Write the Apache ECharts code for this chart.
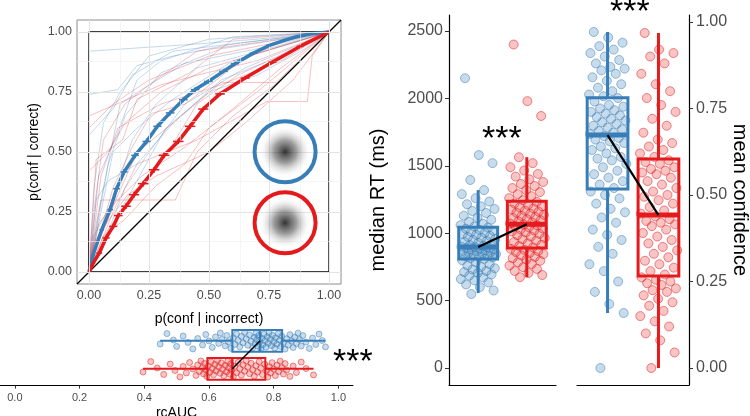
<!DOCTYPE html>
<html lang="en">
<head>
<meta charset="utf-8">
<title>ROC / rcAUC / RT / confidence</title>
<script src="https://cdn.jsdelivr.net/npm/echarts@6.0.0/dist/echarts.min.js"></script>
<style>
  html, body { margin: 0; padding: 0; background: #fff; }
  #chart { width: 750px; height: 416px; }
</style>
</head>
<body>
<div id="chart"></div>
<script>
// ---- data ----
var rocTicks = [0, 0.25, 0.5, 0.75, 1];
var rocMinor = [0.125, 0.375, 0.625, 0.875];
var aucTicks = [0, 0.2, 0.4, 0.6, 0.8, 1];
var rtTicks = [0, 500, 1000, 1500, 2000, 2500];
var confTicks = [0, 0.25, 0.5, 0.75, 1];

// mean type-2 ROC curves, [p(conf|incorrect), p(conf|correct)]
var rocBlueMean = [[0,0],[0.022,0.086],[0.053,0.176],[0.088,0.26],[0.115,0.347],[0.146,0.417],[0.192,0.486],
  [0.24,0.544],[0.285,0.607],[0.338,0.663],[0.393,0.718],[0.442,0.76],[0.497,0.794],[0.56,0.836],[0.608,0.868],
  [0.685,0.912],[0.754,0.945],[0.817,0.966],[0.865,0.98],[0.928,0.993],[1,1]];
var rocBlueErr = [[0,0],[0.006,0.008],[0.01,0.01],[0.012,0.012],[0.014,0.012],[0.015,0.012],[0.016,0.012],
  [0.017,0.012],[0.017,0.011],[0.018,0.011],[0.018,0.01],[0.018,0.01],[0.018,0.009],[0.018,0.008],[0.017,0.008],
  [0.016,0.007],[0.015,0.006],[0.013,0.005],[0.012,0.004],[0.01,0.003],[0,0]];
var rocRedMean = [[0,0],[0.018,0.038],[0.043,0.079],[0.071,0.142],[0.101,0.19],[0.122,0.235],[0.154,0.274],
  [0.188,0.322],[0.226,0.368],[0.271,0.426],[0.313,0.486],[0.372,0.544],[0.421,0.607],[0.476,0.679],[0.546,0.742],
  [0.65,0.808],[0.765,0.875],[0.879,0.94],[1,1]];
var rocRedErr = [[0,0],[0.008,0.006],[0.012,0.008],[0.015,0.01],[0.017,0.011],[0.018,0.012],[0.02,0.012],
  [0.021,0.012],[0.022,0.012],[0.022,0.012],[0.022,0.012],[0.022,0.011],[0.022,0.011],[0.021,0.01],[0.02,0.009],
  [0.019,0.008],[0.017,0.007],[0.014,0.005],[0,0]];

// single-participant curves
var rocBlueSubj = [
  [[0,0],[0,0.92],[0.45,0.95],[0.7,0.97],[1,1]],
  [[0,0],[0,0.74],[0.12,0.76],[0.2,0.86],[0.35,0.9],[0.6,0.95],[1,1]],
  [[0,0],[0.02,0.35],[0.06,0.62],[0.13,0.75],[0.25,0.9],[0.5,0.97],[1,1]],
  [[0,0],[0.03,0.2],[0.08,0.45],[0.15,0.65],[0.3,0.83],[0.55,0.93],[1,1]],
  [[0,0],[0.05,0.25],[0.1,0.5],[0.2,0.6],[0.35,0.72],[0.6,0.88],[1,1]],
  [[0,0],[0.02,0.15],[0.1,0.3],[0.18,0.55],[0.28,0.7],[0.45,0.85],[1,1]],
  [[0,0],[0.04,0.4],[0.12,0.58],[0.2,0.8],[0.3,0.88],[0.6,0.98],[1,1]],
  [[0,0],[0.06,0.12],[0.15,0.35],[0.25,0.5],[0.4,0.7],[0.65,0.85],[1,1]],
  [[0,0],[0,0.57],[0.1,0.68],[0.18,0.82],[0.35,0.92],[1,1]],
  [[0,0],[0.03,0.3],[0.08,0.38],[0.2,0.45],[0.35,0.62],[0.55,0.8],[0.8,0.9],[1,1]],
  [[0,0],[0.08,0.45],[0.13,0.7],[0.22,0.76],[0.4,0.87],[0.7,0.93],[1,1]],
  [[0,0],[0.1,0.2],[0.2,0.38],[0.32,0.6],[0.5,0.75],[0.7,0.82],[0.9,0.93],[1,1]]
];
var rocRedSubj = [
  [[0,0],[0,0.65],[0.3,0.78],[0.45,0.82],[0.7,0.88],[1,1]],
  [[0,0],[0,0.6],[0.1,0.7],[0.25,0.8],[0.5,0.9],[1,1]],
  [[0,0],[0.05,0.3],[0.36,0.3],[0.45,0.5],[0.6,0.65],[0.8,0.8],[1,1]],
  [[0,0],[0.1,0.25],[0.2,0.45],[0.45,0.55],[0.74,0.71],[0.91,0.71],[0.93,0.9],[1,1]],
  [[0,0],[0.03,0.1],[0.12,0.32],[0.2,0.5],[0.35,0.62],[0.55,0.79],[0.78,0.79],[1,1]],
  [[0,0],[0,0.42],[0.08,0.5],[0.15,0.62],[0.3,0.75],[0.5,0.85],[1,1]],
  [[0,0],[0.04,0.2],[0.1,0.28],[0.22,0.4],[0.4,0.52],[0.6,0.68],[0.8,0.85],[1,1]],
  [[0,0],[0.02,0.25],[0.06,0.55],[0.15,0.7],[0.25,0.78],[0.45,0.92],[1,1]],
  [[0,0],[0.06,0.15],[0.15,0.22],[0.28,0.36],[0.4,0.45],[0.5,0.6],[0.7,0.75],[1,1]],
  [[0,0],[0.05,0.4],[0.12,0.6],[0.3,0.7],[0.55,0.78],[0.8,0.88],[1,1]],
  [[0,0],[0.08,0.18],[0.2,0.33],[0.33,0.5],[0.45,0.7],[0.62,0.82],[1,1]],
  [[0,0],[0.1,0.35],[0.18,0.52],[0.26,0.66],[0.4,0.7],[0.66,0.9],[1,1]],
  [[0,0],[0.02,0.12],[0.07,0.2],[0.16,0.32],[0.28,0.4],[0.5,0.5],[0.65,0.62],[0.85,0.8],[1,1]],
  [[0,0],[0.03,0.47],[0.14,0.55],[0.2,0.72],[0.42,0.83],[0.6,0.97],[1,1]]
];

// box stats: [lower whisker, Q1, median, Q3, upper whisker]
var aucBlueBox = [0.449, 0.672, 0.758, 0.826, 0.96];
var aucRedBox = [0.396, 0.595, 0.672, 0.774, 0.923];
var rtBlueBox = [556, 808, 897, 1045, 1320];
var rtRedBox = [674, 890, 1067, 1238, 1564];
var confBlueBox = [0.159, 0.517, 0.673, 0.781, 0.971];
var confRedBox = [0, 0.266, 0.442, 0.604, 0.968];

// participant values
var aucBlue = [0.449,0.47,0.49,0.5,0.52,0.535,0.55,0.565,0.58,0.59,0.6,0.61,0.62,0.63,0.635,0.64,0.65,0.655,0.66,0.668,
  0.675,0.68,0.685,0.69,0.695,0.7,0.705,0.71,0.715,0.72,0.725,0.73,0.735,0.74,0.742,0.745,0.748,0.75,0.753,0.756,
  0.76,0.763,0.766,0.77,0.773,0.776,0.78,0.783,0.786,0.79,0.793,0.796,0.8,0.803,0.806,0.81,0.814,0.818,0.822,0.825,
  0.83,0.835,0.84,0.845,0.85,0.855,0.86,0.865,0.87,0.875,0.88,0.885,0.89,0.9,0.91,0.92,0.93,0.94,0.95,0.96];
var aucRed = [0.396,0.42,0.44,0.46,0.48,0.495,0.51,0.52,0.53,0.54,0.55,0.56,0.565,0.57,0.575,0.58,0.583,0.586,0.59,0.593,
  0.598,0.602,0.606,0.61,0.614,0.618,0.622,0.626,0.63,0.634,0.638,0.642,0.646,0.65,0.654,0.658,0.661,0.664,0.667,0.67,
  0.675,0.68,0.685,0.69,0.695,0.7,0.705,0.71,0.715,0.72,0.725,0.73,0.735,0.74,0.745,0.75,0.755,0.76,0.765,0.772,
  0.778,0.782,0.786,0.79,0.795,0.8,0.805,0.81,0.815,0.82,0.825,0.83,0.835,0.84,0.85,0.86,0.87,0.885,0.9,0.923];
var rtBlue = [549,575,600,620,635,650,660,672,685,695,705,712,720,730,740,750,760,770,785,800,
  810,815,820,825,830,835,840,845,850,855,860,865,870,875,880,883,886,890,893,896,
  900,905,912,920,928,935,942,950,958,965,972,980,988,995,1003,1010,1018,1025,1033,1042,
  1050,1060,1070,1085,1100,1115,1130,1150,1165,1180,1200,1215,1235,1260,1290,1320,1395,1520,1580,2150];
var rtRed = [674,690,705,720,735,748,760,772,785,795,805,815,825,835,845,853,860,868,876,884,
  895,905,915,925,935,945,955,965,975,985,995,1005,1013,1020,1028,1036,1044,1052,1058,1064,
  1072,1080,1088,1096,1104,1112,1120,1128,1136,1144,1152,1160,1168,1176,1184,1192,1200,1210,1220,1232,
  1245,1260,1275,1290,1305,1320,1335,1350,1365,1380,1400,1420,1440,1465,1490,1520,1564,1870,1980,2400];
var confBlue = [0,0.159,0.185,0.22,0.25,0.28,0.3,0.33,0.35,0.37,0.385,0.4,0.42,0.435,0.45,0.46,0.475,0.49,0.5,0.51,
  0.52,0.53,0.54,0.55,0.56,0.57,0.58,0.59,0.6,0.605,0.61,0.62,0.63,0.635,0.64,0.65,0.655,0.66,0.665,0.67,
  0.676,0.68,0.685,0.69,0.695,0.7,0.705,0.71,0.715,0.72,0.725,0.73,0.735,0.74,0.745,0.75,0.755,0.76,0.77,0.78,
  0.785,0.79,0.8,0.81,0.82,0.83,0.84,0.85,0.86,0.865,0.87,0.88,0.89,0.9,0.91,0.92,0.93,0.94,0.955,0.971];
var confRed = [0,0.045,0.08,0.1,0.12,0.135,0.15,0.165,0.18,0.19,0.2,0.21,0.22,0.225,0.23,0.24,0.245,0.25,0.255,0.262,
  0.27,0.28,0.29,0.3,0.31,0.32,0.33,0.34,0.35,0.36,0.37,0.38,0.39,0.4,0.41,0.415,0.42,0.425,0.43,0.438,
  0.446,0.455,0.465,0.475,0.485,0.495,0.5,0.51,0.52,0.53,0.54,0.55,0.56,0.565,0.57,0.575,0.58,0.59,0.595,0.6,
  0.61,0.62,0.63,0.64,0.65,0.66,0.68,0.7,0.72,0.74,0.76,0.78,0.8,0.82,0.85,0.88,0.9,0.91,0.92,0.968];

// ---- styling ----
var BLUE = '#377EB8', RED = '#E41A1C';
var BLUE_PT = 'rgba(55,126,184,0.28)', RED_PT = 'rgba(228,26,28,0.26)';
var FONT = 'Liberation Sans, Arial, sans-serif';

// deterministic spread for the jittered dots
function spread(i) { return ((i * 0.6180339887 + 0.31) % 1) * 2 - 1; }

function jitterV(vals, pos, w) { return vals.map(function (v, i) { return [pos + spread(i) * w, v]; }); }
function jitterH(vals, pos, w) { return vals.map(function (v, i) { return [v, pos + spread(i) * w]; }); }

function boxRenderer(horizontal, lw, medLw, hw, colors) {
  return function (params, api) {
    var pos = api.value(0);
    var s = [api.value(1), api.value(2), api.value(3), api.value(4), api.value(5)];
    var col = colors[params.dataIndex];
    function pt(v, off) { return horizontal ? api.coord([v, pos + off]) : api.coord([pos + off, v]); }
    function seg(a, b, w) {
      return { type: 'line', shape: { x1: a[0], y1: a[1], x2: b[0], y2: b[1] }, style: { stroke: col, lineWidth: w } };
    }
    var c1 = pt(s[1], -hw), c2 = pt(s[3], hw);
    return {
      type: 'group',
      children: [
        seg(pt(s[0], 0), pt(s[1], 0), lw),
        seg(pt(s[3], 0), pt(s[4], 0), lw),
        { type: 'rect',
          shape: { x: Math.min(c1[0], c2[0]), y: Math.min(c1[1], c2[1]),
                   width: Math.abs(c2[0] - c1[0]), height: Math.abs(c2[1] - c1[1]) },
          style: { fill: 'none', stroke: col, lineWidth: lw } },
        seg(pt(s[2], -hw), pt(s[2], hw), medLw)
      ]
    };
  };
}

function renderErr(params, api) {
  var x = api.value(0), y = api.value(1), ex = api.value(2), ey = api.value(3);
  var a = api.coord([x - ex, y]), b = api.coord([x + ex, y]);
  var c = api.coord([x, y - ey]), d = api.coord([x, y + ey]);
  var st = { stroke: api.visual('color'), lineWidth: 1.5 };
  return { type: 'group', children: [
    { type: 'line', shape: { x1: a[0], y1: a[1], x2: b[0], y2: b[1] }, style: st },
    { type: 'line', shape: { x1: c[0], y1: c[1], x2: d[0], y2: d[1] }, style: st }
  ] };
}

function withErr(mean, err) { return mean.map(function (p, i) { return [p[0], p[1], err[i][0], err[i][1]]; }); }

// grid lines of the ROC panel (theme_bw look)
var gridLines = [];
rocTicks.forEach(function (v) {
  gridLines.push({ xAxis: v, lineStyle: { width: 1, color: '#e3e3e3' } });
  gridLines.push({ yAxis: v, lineStyle: { width: 1, color: '#e3e3e3' } });
});
rocMinor.forEach(function (v) {
  gridLines.push({ xAxis: v, lineStyle: { width: 0.6, color: '#eeeeee' } });
  gridLines.push({ yAxis: v, lineStyle: { width: 0.6, color: '#eeeeee' } });
});

var series = [];
series.push({
  type: 'line', xAxisIndex: 0, yAxisIndex: 0, data: [], z: 0, silent: true,
  markLine: { silent: true, symbol: 'none', label: { show: false }, lineStyle: { type: 'solid' }, data: gridLines }
});
rocBlueSubj.forEach(function (c) {
  series.push({ type: 'line', xAxisIndex: 0, yAxisIndex: 0, data: c, symbol: 'none', silent: true, z: 1,
    lineStyle: { color: 'rgba(55,126,184,0.3)', width: 1 } });
});
rocRedSubj.forEach(function (c) {
  series.push({ type: 'line', xAxisIndex: 0, yAxisIndex: 0, data: c, symbol: 'none', silent: true, z: 1,
    lineStyle: { color: 'rgba(228,26,28,0.28)', width: 1 } });
});
// reference square and diagonal
series.push({ type: 'line', xAxisIndex: 0, yAxisIndex: 0, symbol: 'none', silent: true, z: 3,
  data: [[0, 0], [1, 0], [1, 1], [0, 1], [0, 0]], lineStyle: { color: '#000', width: 1.3 } });
series.push({ type: 'line', xAxisIndex: 0, yAxisIndex: 0, symbol: 'none', silent: true, z: 3,
  data: [[-0.05, -0.05], [1.05, 1.05]], lineStyle: { color: '#000', width: 1.3 } });
// mean curves with error crosses
[[rocBlueMean, rocBlueErr, BLUE], [rocRedMean, rocRedErr, RED]].forEach(function (g) {
  series.push({ type: 'line', xAxisIndex: 0, yAxisIndex: 0, data: g[0], symbol: 'none', silent: true, z: 4,
    lineStyle: { color: g[2], width: 3.5 } });
  series.push({ type: 'custom', xAxisIndex: 0, yAxisIndex: 0, data: withErr(g[0], g[1]), z: 5, silent: true,
    itemStyle: { color: g[2] }, renderItem: renderErr });
});
// stimulus icons
function icon(col) {
  return {
    opacity: 1,
    color: { type: 'radial', x: 0.5, y: 0.5, r: 0.5, colorStops: [
      { offset: 0, color: 'rgba(0,0,0,0.8)' }, { offset: 0.35, color: 'rgba(40,40,40,0.45)' },
      { offset: 0.8, color: 'rgba(255,255,255,0)' }, { offset: 1, color: 'rgba(255,255,255,0)' }] },
    borderColor: col, borderWidth: 4
  };
}
series.push({ type: 'scatter', xAxisIndex: 0, yAxisIndex: 0, symbolSize: 61, silent: true, z: 6,
  data: [{ value: [0.817, 0.501], itemStyle: icon(BLUE) }, { value: [0.817, 0.205], itemStyle: icon(RED) }] });

var bluePts = { opacity: 1, color: BLUE_PT, borderColor: 'rgba(55,126,184,0.5)', borderWidth: 1 };
var redPts = { opacity: 1, color: RED_PT, borderColor: 'rgba(228,26,28,0.5)', borderWidth: 1 };

// rcAUC panel (horizontal): blue at 2, red at 1
series.push({ type: 'scatter', xAxisIndex: 1, yAxisIndex: 1, symbolSize: 6, silent: true,
  data: jitterH(aucBlue, 2, 0.3), itemStyle: bluePts });
series.push({ type: 'scatter', xAxisIndex: 1, yAxisIndex: 1, symbolSize: 6, silent: true,
  data: jitterH(aucRed, 1, 0.3), itemStyle: redPts });
series.push({ type: 'custom', xAxisIndex: 1, yAxisIndex: 1, silent: true, z: 4,
  data: [[2].concat(aucBlueBox), [1].concat(aucRedBox)],
  renderItem: boxRenderer(true, 2, 2.5, 0.39, [BLUE, RED]) });
series.push({ type: 'line', xAxisIndex: 1, yAxisIndex: 1, symbol: 'none', silent: true, z: 5,
  data: [[aucBlueBox[2], 2], [aucRedBox[2], 1]], lineStyle: { color: '#000', width: 1.5 } });

// RT panel: blue at 1, red at 2
series.push({ type: 'scatter', xAxisIndex: 2, yAxisIndex: 2, symbolSize: 9, silent: true,
  data: jitterV(rtBlue, 1, 0.37), itemStyle: bluePts });
series.push({ type: 'scatter', xAxisIndex: 2, yAxisIndex: 2, symbolSize: 9, silent: true,
  data: jitterV(rtRed, 2, 0.37), itemStyle: redPts });
series.push({ type: 'custom', xAxisIndex: 2, yAxisIndex: 2, silent: true, z: 4,
  data: [[1].concat(rtBlueBox), [2].concat(rtRedBox)],
  renderItem: boxRenderer(false, 3, 5, 0.4, [BLUE, RED]) });
series.push({ type: 'line', xAxisIndex: 2, yAxisIndex: 2, symbol: 'none', silent: true, z: 5,
  data: [[1, rtBlueBox[2]], [2, rtRedBox[2]]], lineStyle: { color: '#000', width: 2.2 } });

// confidence panel
series.push({ type: 'scatter', xAxisIndex: 3, yAxisIndex: 3, symbolSize: 9, silent: true,
  data: jitterV(confBlue, 1, 0.37), itemStyle: bluePts });
series.push({ type: 'scatter', xAxisIndex: 3, yAxisIndex: 3, symbolSize: 9, silent: true,
  data: jitterV(confRed, 2, 0.37), itemStyle: redPts });
series.push({ type: 'custom', xAxisIndex: 3, yAxisIndex: 3, silent: true, z: 4,
  data: [[1].concat(confBlueBox), [2].concat(confRedBox)],
  renderItem: boxRenderer(false, 3, 5, 0.4, [BLUE, RED]) });
series.push({ type: 'line', xAxisIndex: 3, yAxisIndex: 3, symbol: 'none', silent: true, z: 5,
  data: [[1, confBlueBox[2]], [2, confRedBox[2]]], lineStyle: { color: '#000', width: 2.2 } });

var tickLabel = { color: '#4d4d4d', fontFamily: FONT };
var noAxis = { show: false };
function stars(x, y) {
  return { type: 'text', x: x, y: y, style: { text: '***', fontSize: 34, fontFamily: FONT, fill: '#000' } };
}

var option = {
  animation: false,
  backgroundColor: '#fff',
  textStyle: { fontFamily: FONT },
  grid: [
    { left: 77, top: 20, width: 264, height: 264, show: true, borderColor: '#8c8c8c', borderWidth: 1,
      backgroundColor: '#fff', outerBoundsMode: 'none' },
    { left: 0, top: 324, width: 353, height: 61.6, outerBoundsMode: 'none' },
    { left: 449, top: 15, width: 107, height: 370, outerBoundsMode: 'none' },
    { left: 577, top: 15, width: 112, height: 370, outerBoundsMode: 'none' }
  ],
  xAxis: [
    { gridIndex: 0, type: 'value', min: -0.05, max: 1.05, splitLine: noAxis,
      axisLine: noAxis,
      axisTick: { show: true, length: 3, customValues: rocTicks, lineStyle: { color: '#333' } },
      axisLabel: Object.assign({ fontSize: 12.5, margin: 5, customValues: rocTicks,
        formatter: function (v) { return v.toFixed(2); } }, tickLabel),
      name: 'p(conf | incorrect)', nameLocation: 'middle', nameGap: 28,
      nameTextStyle: { fontSize: 14, color: '#000', fontFamily: FONT } },
    { gridIndex: 1, type: 'value', min: -0.046, max: 1.045, splitLine: noAxis,
      axisLine: { show: true, onZero: false, lineStyle: { color: '#000', width: 1 } },
      axisTick: { show: true, length: 3, customValues: aucTicks, lineStyle: { color: '#333' } },
      axisLabel: Object.assign({ fontSize: 11, margin: 7, customValues: aucTicks,
        formatter: function (v) { return v.toFixed(1); } }, tickLabel),
      name: 'rcAUC', nameLocation: 'middle', nameGap: 21,
      nameTextStyle: { fontSize: 14, color: '#000', fontFamily: FONT } },
    { gridIndex: 2, type: 'value', min: 0.4, max: 2.6, splitLine: noAxis, axisTick: noAxis, axisLabel: noAxis,
      axisLine: { show: true, onZero: false, lineStyle: { color: '#000', width: 1.2 } } },
    { gridIndex: 3, type: 'value', min: 0.4, max: 2.6, splitLine: noAxis, axisTick: noAxis, axisLabel: noAxis,
      axisLine: { show: true, onZero: false, lineStyle: { color: '#000', width: 1.2 } } }
  ],
  yAxis: [
    { gridIndex: 0, type: 'value', min: -0.05, max: 1.05, splitLine: noAxis,
      axisLine: noAxis,
      axisTick: { show: true, length: 3, customValues: rocTicks, lineStyle: { color: '#333' } },
      axisLabel: Object.assign({ fontSize: 12.5, margin: 5, customValues: rocTicks,
        formatter: function (v) { return v.toFixed(2); } }, tickLabel),
      name: 'p(conf | correct)', nameLocation: 'middle', nameGap: 36,
      nameTextStyle: { fontSize: 14, color: '#000', fontFamily: FONT } },
    { gridIndex: 1, type: 'value', min: 0.4, max: 2.6, show: false },
    { gridIndex: 2, type: 'value', min: -126, max: 2619, splitLine: noAxis,
      axisLine: { show: true, onZero: false, lineStyle: { color: '#000', width: 1.2 } },
      axisTick: { show: true, length: 4, customValues: rtTicks, lineStyle: { color: '#333' } },
      axisLabel: Object.assign({ fontSize: 16, margin: 6, customValues: rtTicks,
        formatter: function (v) { return String(v); } }, tickLabel),
      name: 'median RT (ms)', nameLocation: 'middle', nameGap: 61,
      nameTextStyle: { fontSize: 20, color: '#000', fontFamily: FONT } },
    { gridIndex: 3, type: 'value', position: 'right', min: -0.049, max: 1.02, splitLine: noAxis,
      axisLine: { show: true, onZero: false, lineStyle: { color: '#000', width: 1.2 } },
      axisTick: { show: true, length: 4, customValues: confTicks, lineStyle: { color: '#333' } },
      axisLabel: Object.assign({ fontSize: 16, margin: 7, customValues: confTicks,
        formatter: function (v) { return v.toFixed(2); } }, tickLabel) }
  ],
  graphic: [
    stars(333, 346), stars(482, 123), stars(610, -4),
    { type: 'text', x: 740, y: 200, rotation: -Math.PI / 2,
      style: { text: 'mean confidence', fontSize: 20, fontFamily: FONT, fill: '#000',
               align: 'center', verticalAlign: 'middle' } }
  ],
  series: series
};

var chart = echarts.init(document.getElementById('chart'), null, { renderer: 'canvas' });
chart.setOption(option);
</script>
</body>
</html>
